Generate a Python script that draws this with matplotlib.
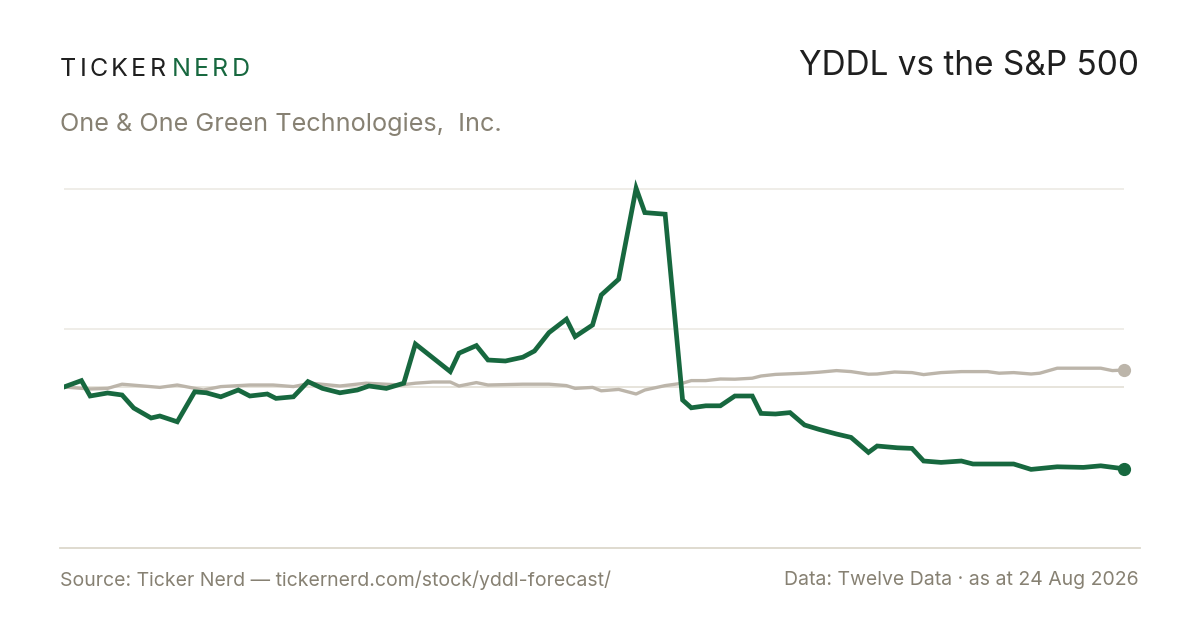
import matplotlib
matplotlib.use("Agg")
import matplotlib.pyplot as plt
from matplotlib.lines import Line2D

# day offsets and % change since start
yddl_days = [0, 6, 9, 15, 20, 24, 30, 33, 39, 45, 49, 54, 60, 64, 70, 73, 79, 84, 89, 95,
             101, 105, 111, 117, 121, 133, 136, 142, 146, 152, 158, 162, 167, 173, 176, 182,
             185, 191, 197, 200, 207, 213, 216, 221, 226, 231, 237, 240, 245, 250, 255, 260,
             266, 271, 277, 280, 287, 292, 296, 302, 309, 313, 327, 333, 342, 351, 357, 365]
yddl_pct = [0.0, 3.2, -4.5, -3.0, -4.0, -10.5, -15.5, -14.5, -17.4, -2.4, -2.9, -4.9, -1.5,
            -4.5, -3.5, -5.7, -4.9, 2.7, -0.7, -2.9, -1.5, 0.5, -0.7, 1.9, 21.5, 7.7, 16.9,
            20.7, 13.5, 13.0, 14.9, 18.0, 27.2, 33.9, 25.2, 31.0, 46.0, 53.9, 99.4, 87.2, 86.4,
            -6.5, -10.4, -9.4, -9.4, -4.5, -4.5, -13.2, -13.5, -12.8, -19.0, -21.2, -23.5,
            -25.2, -32.7, -29.5, -30.4, -30.7, -37.0, -37.7, -37.0, -38.5, -38.5, -41.2,
            -39.9, -40.2, -39.4, -40.9]

spx_days = [0, 9, 15, 20, 33, 39, 48, 54, 64, 72, 79, 85, 95, 104, 116, 121, 127, 133, 136,
            142, 146, 158, 167, 173, 176, 182, 185, 191, 197, 200, 207, 213, 216, 221, 226,
            231, 237, 240, 245, 255, 260, 266, 271, 277, 280, 286, 292, 296, 302, 309, 318,
            322, 327, 333, 336, 342, 357, 361, 365]
spx_pct = [0.0, -1.0, -0.7, 1.4, -0.2, 1.0, -1.5, 0.2, 1.0, 1.0, 0.2, 1.9, 0.5, 1.9, 1.0,
           1.9, 2.5, 2.5, 0.5, 2.2, 1.0, 1.4, 1.4, 0.7, -0.7, -0.2, -1.9, -1.2, -3.5, -1.5,
           0.7, 1.9, 3.2, 3.2, 4.0, 3.9, 4.4, 5.5, 6.3, 6.9, 7.4, 8.2, 7.7, 6.4, 6.5, 7.5,
           7.2, 6.2, 7.2, 7.7, 7.7, 6.9, 7.2, 6.5, 6.9, 9.4, 9.4, 8.2, 8.5]

grid_vals = [29, 99]

GREEN = "#17683f"
SPX = "#bcb5aa"
MUTED = "#878173"
INK = "#1f1f1f"

plt.rcParams["font.family"] = ["Inter", "DejaVu Sans"]

fig = plt.figure(figsize=(12, 6.3), dpi=100)
ax = fig.add_axes([64 / 1200, 1 - 530 / 630, 1060 / 1200, 360 / 630])
ax.set_xlim(0, 365)
ax.set_ylim(-71.5, 108.5)
ax.axis("off")

for g in grid_vals:
    ax.axhline(g, color="#ebe8e2", lw=1.1, zorder=1)
ax.axhline(0, color="#e0dcd2", lw=1.1, zorder=1)

ax.plot(spx_days, spx_pct, color=SPX, lw=2.4, zorder=2, solid_joinstyle="round")
ax.plot(spx_days[-1], spx_pct[-1], "o", color=SPX, ms=8.5, zorder=3, clip_on=False)
ax.plot(yddl_days, yddl_pct, color=GREEN, lw=3.4, zorder=4, solid_joinstyle="miter")
ax.plot(yddl_days[-1], yddl_pct[-1], "o", color=GREEN, ms=8.5, zorder=5, clip_on=False)

# bottom rule
fig.add_artist(Line2D([60 / 1200, 1140 / 1200], [1 - 548 / 630] * 2, color="#dcd8cc", lw=1.3))

# logo with letter spacing
fig.canvas.draw()
r = fig.canvas.get_renderer()
x = 60
for ch, col in [(c, INK) for c in "TICKER"] + [(" ", INK)] + [(c, GREEN) for c in "NERD"]:
    if ch == " ":
        x += 3
        continue
    t = fig.text(x / 1200, 1 - 70 / 630, ch, color=col, fontsize=18, va="center", ha="left")
    w = t.get_window_extent(r).width
    x += w + 3.2

fig.text(60 / 1200, 1 - 124 / 630, "One & One Green Technologies,  Inc.", color=MUTED,
         fontsize=18.2, va="center", ha="left")
fig.text(1139 / 1200, 1 - 66 / 630, "YDDL vs the S&P 500", color=INK,
         fontsize=24, va="center", ha="right")
fig.text(60 / 1200, 1 - 580 / 630, "Source: Ticker Nerd \u2014 tickernerd.com/stock/yddl-forecast/",
         color=MUTED, fontsize=14, va="center", ha="left")
fig.text(1139 / 1200, 1 - 580 / 630, "Data: Twelve Data \u00b7 as at 24 Aug 2026",
         color=MUTED, fontsize=14, va="center", ha="right")

fig.savefig("out.png", dpi=100, facecolor="white")
